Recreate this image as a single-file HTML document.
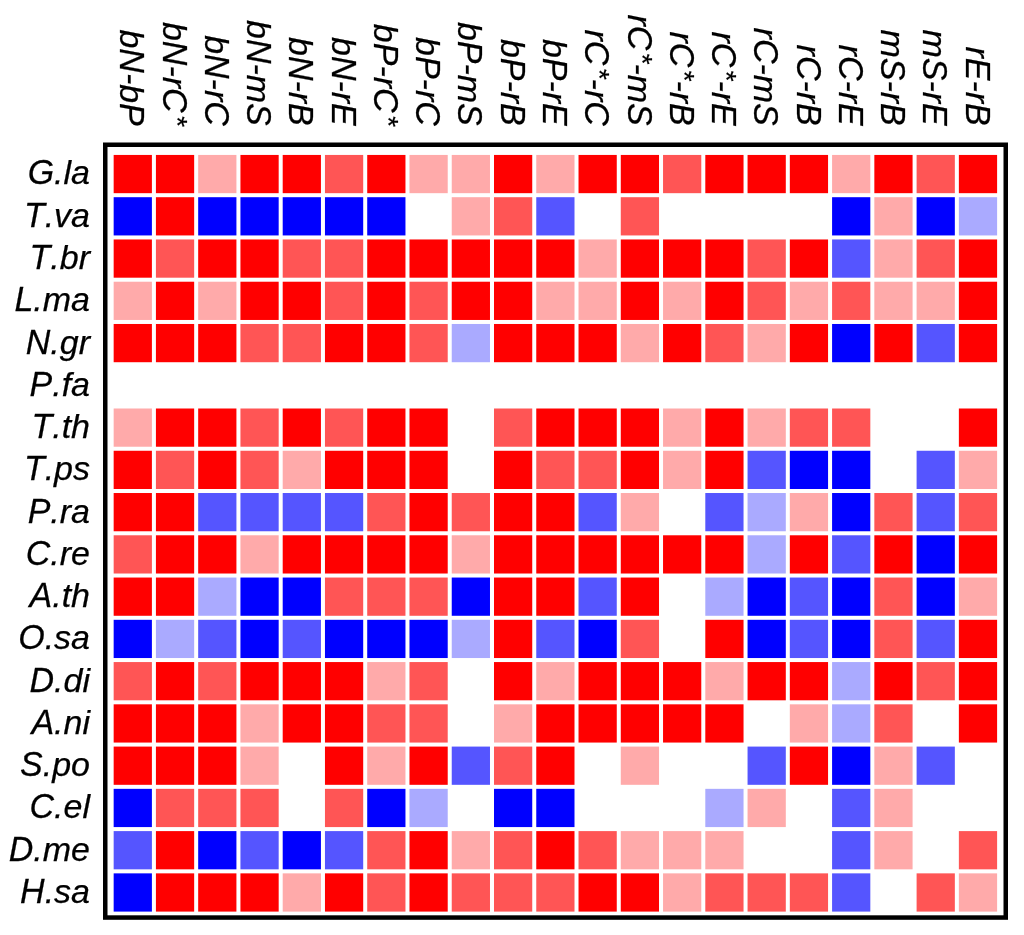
<!DOCTYPE html><html><head><meta charset="utf-8"><style>html,body{margin:0;padding:0;background:#fff;width:1024px;height:935px;overflow:hidden}svg{display:block;will-change:transform}text{font-family:"Liberation Sans",sans-serif;font-style:italic;font-kerning:none;fill:#000;font-size:34px;stroke:#000;stroke-width:0.25px}</style></head><body>
<svg width="1024" height="935" viewBox="0 0 1024 935">
<rect x="0" y="0" width="1024" height="935" fill="#fff"/>
<rect x="113.66" y="154.94" width="38.24" height="38.24" fill="#ff0000"/>
<rect x="155.92" y="154.94" width="38.24" height="38.24" fill="#ff0000"/>
<rect x="198.18" y="154.94" width="38.24" height="38.24" fill="#ffaaaa"/>
<rect x="240.44" y="154.94" width="38.24" height="38.24" fill="#ff0000"/>
<rect x="282.70" y="154.94" width="38.24" height="38.24" fill="#ff0000"/>
<rect x="324.96" y="154.94" width="38.24" height="38.24" fill="#ff5555"/>
<rect x="367.22" y="154.94" width="38.24" height="38.24" fill="#ff0000"/>
<rect x="409.48" y="154.94" width="38.24" height="38.24" fill="#ffaaaa"/>
<rect x="451.74" y="154.94" width="38.24" height="38.24" fill="#ffaaaa"/>
<rect x="494.00" y="154.94" width="38.24" height="38.24" fill="#ff0000"/>
<rect x="536.26" y="154.94" width="38.24" height="38.24" fill="#ffaaaa"/>
<rect x="578.52" y="154.94" width="38.24" height="38.24" fill="#ff0000"/>
<rect x="620.78" y="154.94" width="38.24" height="38.24" fill="#ff0000"/>
<rect x="663.04" y="154.94" width="38.24" height="38.24" fill="#ff5555"/>
<rect x="705.30" y="154.94" width="38.24" height="38.24" fill="#ff0000"/>
<rect x="747.56" y="154.94" width="38.24" height="38.24" fill="#ff0000"/>
<rect x="789.82" y="154.94" width="38.24" height="38.24" fill="#ff0000"/>
<rect x="832.08" y="154.94" width="38.24" height="38.24" fill="#ffaaaa"/>
<rect x="874.34" y="154.94" width="38.24" height="38.24" fill="#ff0000"/>
<rect x="916.60" y="154.94" width="38.24" height="38.24" fill="#ff5555"/>
<rect x="958.86" y="154.94" width="38.24" height="38.24" fill="#ff0000"/>
<rect x="113.66" y="197.20" width="38.24" height="38.24" fill="#0000ff"/>
<rect x="155.92" y="197.20" width="38.24" height="38.24" fill="#ff0000"/>
<rect x="198.18" y="197.20" width="38.24" height="38.24" fill="#0000ff"/>
<rect x="240.44" y="197.20" width="38.24" height="38.24" fill="#0000ff"/>
<rect x="282.70" y="197.20" width="38.24" height="38.24" fill="#0000ff"/>
<rect x="324.96" y="197.20" width="38.24" height="38.24" fill="#0000ff"/>
<rect x="367.22" y="197.20" width="38.24" height="38.24" fill="#0000ff"/>
<rect x="451.74" y="197.20" width="38.24" height="38.24" fill="#ffaaaa"/>
<rect x="494.00" y="197.20" width="38.24" height="38.24" fill="#ff5555"/>
<rect x="536.26" y="197.20" width="38.24" height="38.24" fill="#5555ff"/>
<rect x="620.78" y="197.20" width="38.24" height="38.24" fill="#ff5555"/>
<rect x="832.08" y="197.20" width="38.24" height="38.24" fill="#0000ff"/>
<rect x="874.34" y="197.20" width="38.24" height="38.24" fill="#ffaaaa"/>
<rect x="916.60" y="197.20" width="38.24" height="38.24" fill="#0000ff"/>
<rect x="958.86" y="197.20" width="38.24" height="38.24" fill="#aaaaff"/>
<rect x="113.66" y="239.46" width="38.24" height="38.24" fill="#ff0000"/>
<rect x="155.92" y="239.46" width="38.24" height="38.24" fill="#ff5555"/>
<rect x="198.18" y="239.46" width="38.24" height="38.24" fill="#ff0000"/>
<rect x="240.44" y="239.46" width="38.24" height="38.24" fill="#ff0000"/>
<rect x="282.70" y="239.46" width="38.24" height="38.24" fill="#ff5555"/>
<rect x="324.96" y="239.46" width="38.24" height="38.24" fill="#ff5555"/>
<rect x="367.22" y="239.46" width="38.24" height="38.24" fill="#ff0000"/>
<rect x="409.48" y="239.46" width="38.24" height="38.24" fill="#ff0000"/>
<rect x="451.74" y="239.46" width="38.24" height="38.24" fill="#ff0000"/>
<rect x="494.00" y="239.46" width="38.24" height="38.24" fill="#ff0000"/>
<rect x="536.26" y="239.46" width="38.24" height="38.24" fill="#ff0000"/>
<rect x="578.52" y="239.46" width="38.24" height="38.24" fill="#ffaaaa"/>
<rect x="620.78" y="239.46" width="38.24" height="38.24" fill="#ff0000"/>
<rect x="663.04" y="239.46" width="38.24" height="38.24" fill="#ff0000"/>
<rect x="705.30" y="239.46" width="38.24" height="38.24" fill="#ff0000"/>
<rect x="747.56" y="239.46" width="38.24" height="38.24" fill="#ff5555"/>
<rect x="789.82" y="239.46" width="38.24" height="38.24" fill="#ff0000"/>
<rect x="832.08" y="239.46" width="38.24" height="38.24" fill="#5555ff"/>
<rect x="874.34" y="239.46" width="38.24" height="38.24" fill="#ffaaaa"/>
<rect x="916.60" y="239.46" width="38.24" height="38.24" fill="#ff5555"/>
<rect x="958.86" y="239.46" width="38.24" height="38.24" fill="#ff0000"/>
<rect x="113.66" y="281.72" width="38.24" height="38.24" fill="#ffaaaa"/>
<rect x="155.92" y="281.72" width="38.24" height="38.24" fill="#ff0000"/>
<rect x="198.18" y="281.72" width="38.24" height="38.24" fill="#ffaaaa"/>
<rect x="240.44" y="281.72" width="38.24" height="38.24" fill="#ff0000"/>
<rect x="282.70" y="281.72" width="38.24" height="38.24" fill="#ff0000"/>
<rect x="324.96" y="281.72" width="38.24" height="38.24" fill="#ff5555"/>
<rect x="367.22" y="281.72" width="38.24" height="38.24" fill="#ff0000"/>
<rect x="409.48" y="281.72" width="38.24" height="38.24" fill="#ff5555"/>
<rect x="451.74" y="281.72" width="38.24" height="38.24" fill="#ff0000"/>
<rect x="494.00" y="281.72" width="38.24" height="38.24" fill="#ff0000"/>
<rect x="536.26" y="281.72" width="38.24" height="38.24" fill="#ffaaaa"/>
<rect x="578.52" y="281.72" width="38.24" height="38.24" fill="#ffaaaa"/>
<rect x="620.78" y="281.72" width="38.24" height="38.24" fill="#ff0000"/>
<rect x="663.04" y="281.72" width="38.24" height="38.24" fill="#ffaaaa"/>
<rect x="705.30" y="281.72" width="38.24" height="38.24" fill="#ff0000"/>
<rect x="747.56" y="281.72" width="38.24" height="38.24" fill="#ff5555"/>
<rect x="789.82" y="281.72" width="38.24" height="38.24" fill="#ffaaaa"/>
<rect x="832.08" y="281.72" width="38.24" height="38.24" fill="#ff5555"/>
<rect x="874.34" y="281.72" width="38.24" height="38.24" fill="#ffaaaa"/>
<rect x="916.60" y="281.72" width="38.24" height="38.24" fill="#ffaaaa"/>
<rect x="958.86" y="281.72" width="38.24" height="38.24" fill="#ff0000"/>
<rect x="113.66" y="323.98" width="38.24" height="38.24" fill="#ff0000"/>
<rect x="155.92" y="323.98" width="38.24" height="38.24" fill="#ff0000"/>
<rect x="198.18" y="323.98" width="38.24" height="38.24" fill="#ff0000"/>
<rect x="240.44" y="323.98" width="38.24" height="38.24" fill="#ff5555"/>
<rect x="282.70" y="323.98" width="38.24" height="38.24" fill="#ff5555"/>
<rect x="324.96" y="323.98" width="38.24" height="38.24" fill="#ff0000"/>
<rect x="367.22" y="323.98" width="38.24" height="38.24" fill="#ff0000"/>
<rect x="409.48" y="323.98" width="38.24" height="38.24" fill="#ff5555"/>
<rect x="451.74" y="323.98" width="38.24" height="38.24" fill="#aaaaff"/>
<rect x="494.00" y="323.98" width="38.24" height="38.24" fill="#ff0000"/>
<rect x="536.26" y="323.98" width="38.24" height="38.24" fill="#ff0000"/>
<rect x="578.52" y="323.98" width="38.24" height="38.24" fill="#ff0000"/>
<rect x="620.78" y="323.98" width="38.24" height="38.24" fill="#ffaaaa"/>
<rect x="663.04" y="323.98" width="38.24" height="38.24" fill="#ff0000"/>
<rect x="705.30" y="323.98" width="38.24" height="38.24" fill="#ff5555"/>
<rect x="747.56" y="323.98" width="38.24" height="38.24" fill="#ffaaaa"/>
<rect x="789.82" y="323.98" width="38.24" height="38.24" fill="#ff0000"/>
<rect x="832.08" y="323.98" width="38.24" height="38.24" fill="#0000ff"/>
<rect x="874.34" y="323.98" width="38.24" height="38.24" fill="#ff0000"/>
<rect x="916.60" y="323.98" width="38.24" height="38.24" fill="#5555ff"/>
<rect x="958.86" y="323.98" width="38.24" height="38.24" fill="#ff0000"/>
<rect x="113.66" y="408.50" width="38.24" height="38.24" fill="#ffaaaa"/>
<rect x="155.92" y="408.50" width="38.24" height="38.24" fill="#ff0000"/>
<rect x="198.18" y="408.50" width="38.24" height="38.24" fill="#ff0000"/>
<rect x="240.44" y="408.50" width="38.24" height="38.24" fill="#ff5555"/>
<rect x="282.70" y="408.50" width="38.24" height="38.24" fill="#ff0000"/>
<rect x="324.96" y="408.50" width="38.24" height="38.24" fill="#ff5555"/>
<rect x="367.22" y="408.50" width="38.24" height="38.24" fill="#ff0000"/>
<rect x="409.48" y="408.50" width="38.24" height="38.24" fill="#ff0000"/>
<rect x="494.00" y="408.50" width="38.24" height="38.24" fill="#ff5555"/>
<rect x="536.26" y="408.50" width="38.24" height="38.24" fill="#ff0000"/>
<rect x="578.52" y="408.50" width="38.24" height="38.24" fill="#ff0000"/>
<rect x="620.78" y="408.50" width="38.24" height="38.24" fill="#ff0000"/>
<rect x="663.04" y="408.50" width="38.24" height="38.24" fill="#ffaaaa"/>
<rect x="705.30" y="408.50" width="38.24" height="38.24" fill="#ff0000"/>
<rect x="747.56" y="408.50" width="38.24" height="38.24" fill="#ffaaaa"/>
<rect x="789.82" y="408.50" width="38.24" height="38.24" fill="#ff5555"/>
<rect x="832.08" y="408.50" width="38.24" height="38.24" fill="#ff5555"/>
<rect x="958.86" y="408.50" width="38.24" height="38.24" fill="#ff0000"/>
<rect x="113.66" y="450.76" width="38.24" height="38.24" fill="#ff0000"/>
<rect x="155.92" y="450.76" width="38.24" height="38.24" fill="#ff5555"/>
<rect x="198.18" y="450.76" width="38.24" height="38.24" fill="#ff0000"/>
<rect x="240.44" y="450.76" width="38.24" height="38.24" fill="#ff5555"/>
<rect x="282.70" y="450.76" width="38.24" height="38.24" fill="#ffaaaa"/>
<rect x="324.96" y="450.76" width="38.24" height="38.24" fill="#ff0000"/>
<rect x="367.22" y="450.76" width="38.24" height="38.24" fill="#ff0000"/>
<rect x="409.48" y="450.76" width="38.24" height="38.24" fill="#ff0000"/>
<rect x="494.00" y="450.76" width="38.24" height="38.24" fill="#ff0000"/>
<rect x="536.26" y="450.76" width="38.24" height="38.24" fill="#ff5555"/>
<rect x="578.52" y="450.76" width="38.24" height="38.24" fill="#ff5555"/>
<rect x="620.78" y="450.76" width="38.24" height="38.24" fill="#ff0000"/>
<rect x="663.04" y="450.76" width="38.24" height="38.24" fill="#ffaaaa"/>
<rect x="705.30" y="450.76" width="38.24" height="38.24" fill="#ff0000"/>
<rect x="747.56" y="450.76" width="38.24" height="38.24" fill="#5555ff"/>
<rect x="789.82" y="450.76" width="38.24" height="38.24" fill="#0000ff"/>
<rect x="832.08" y="450.76" width="38.24" height="38.24" fill="#0000ff"/>
<rect x="916.60" y="450.76" width="38.24" height="38.24" fill="#5555ff"/>
<rect x="958.86" y="450.76" width="38.24" height="38.24" fill="#ffaaaa"/>
<rect x="113.66" y="493.02" width="38.24" height="38.24" fill="#ff0000"/>
<rect x="155.92" y="493.02" width="38.24" height="38.24" fill="#ff0000"/>
<rect x="198.18" y="493.02" width="38.24" height="38.24" fill="#5555ff"/>
<rect x="240.44" y="493.02" width="38.24" height="38.24" fill="#5555ff"/>
<rect x="282.70" y="493.02" width="38.24" height="38.24" fill="#5555ff"/>
<rect x="324.96" y="493.02" width="38.24" height="38.24" fill="#5555ff"/>
<rect x="367.22" y="493.02" width="38.24" height="38.24" fill="#ff5555"/>
<rect x="409.48" y="493.02" width="38.24" height="38.24" fill="#ff0000"/>
<rect x="451.74" y="493.02" width="38.24" height="38.24" fill="#ff5555"/>
<rect x="494.00" y="493.02" width="38.24" height="38.24" fill="#ff0000"/>
<rect x="536.26" y="493.02" width="38.24" height="38.24" fill="#ff0000"/>
<rect x="578.52" y="493.02" width="38.24" height="38.24" fill="#5555ff"/>
<rect x="620.78" y="493.02" width="38.24" height="38.24" fill="#ffaaaa"/>
<rect x="705.30" y="493.02" width="38.24" height="38.24" fill="#5555ff"/>
<rect x="747.56" y="493.02" width="38.24" height="38.24" fill="#aaaaff"/>
<rect x="789.82" y="493.02" width="38.24" height="38.24" fill="#ffaaaa"/>
<rect x="832.08" y="493.02" width="38.24" height="38.24" fill="#0000ff"/>
<rect x="874.34" y="493.02" width="38.24" height="38.24" fill="#ff5555"/>
<rect x="916.60" y="493.02" width="38.24" height="38.24" fill="#5555ff"/>
<rect x="958.86" y="493.02" width="38.24" height="38.24" fill="#ff5555"/>
<rect x="113.66" y="535.28" width="38.24" height="38.24" fill="#ff5555"/>
<rect x="155.92" y="535.28" width="38.24" height="38.24" fill="#ff0000"/>
<rect x="198.18" y="535.28" width="38.24" height="38.24" fill="#ff0000"/>
<rect x="240.44" y="535.28" width="38.24" height="38.24" fill="#ffaaaa"/>
<rect x="282.70" y="535.28" width="38.24" height="38.24" fill="#ff0000"/>
<rect x="324.96" y="535.28" width="38.24" height="38.24" fill="#ff0000"/>
<rect x="367.22" y="535.28" width="38.24" height="38.24" fill="#ff0000"/>
<rect x="409.48" y="535.28" width="38.24" height="38.24" fill="#ff0000"/>
<rect x="451.74" y="535.28" width="38.24" height="38.24" fill="#ffaaaa"/>
<rect x="494.00" y="535.28" width="38.24" height="38.24" fill="#ff0000"/>
<rect x="536.26" y="535.28" width="38.24" height="38.24" fill="#ff0000"/>
<rect x="578.52" y="535.28" width="38.24" height="38.24" fill="#ff0000"/>
<rect x="620.78" y="535.28" width="38.24" height="38.24" fill="#ff0000"/>
<rect x="663.04" y="535.28" width="38.24" height="38.24" fill="#ff0000"/>
<rect x="705.30" y="535.28" width="38.24" height="38.24" fill="#ff0000"/>
<rect x="747.56" y="535.28" width="38.24" height="38.24" fill="#aaaaff"/>
<rect x="789.82" y="535.28" width="38.24" height="38.24" fill="#ff0000"/>
<rect x="832.08" y="535.28" width="38.24" height="38.24" fill="#5555ff"/>
<rect x="874.34" y="535.28" width="38.24" height="38.24" fill="#ff0000"/>
<rect x="916.60" y="535.28" width="38.24" height="38.24" fill="#0000ff"/>
<rect x="958.86" y="535.28" width="38.24" height="38.24" fill="#ff0000"/>
<rect x="113.66" y="577.54" width="38.24" height="38.24" fill="#ff0000"/>
<rect x="155.92" y="577.54" width="38.24" height="38.24" fill="#ff0000"/>
<rect x="198.18" y="577.54" width="38.24" height="38.24" fill="#aaaaff"/>
<rect x="240.44" y="577.54" width="38.24" height="38.24" fill="#0000ff"/>
<rect x="282.70" y="577.54" width="38.24" height="38.24" fill="#0000ff"/>
<rect x="324.96" y="577.54" width="38.24" height="38.24" fill="#ff5555"/>
<rect x="367.22" y="577.54" width="38.24" height="38.24" fill="#ff5555"/>
<rect x="409.48" y="577.54" width="38.24" height="38.24" fill="#ff5555"/>
<rect x="451.74" y="577.54" width="38.24" height="38.24" fill="#0000ff"/>
<rect x="494.00" y="577.54" width="38.24" height="38.24" fill="#ff0000"/>
<rect x="536.26" y="577.54" width="38.24" height="38.24" fill="#ff0000"/>
<rect x="578.52" y="577.54" width="38.24" height="38.24" fill="#5555ff"/>
<rect x="620.78" y="577.54" width="38.24" height="38.24" fill="#ff0000"/>
<rect x="705.30" y="577.54" width="38.24" height="38.24" fill="#aaaaff"/>
<rect x="747.56" y="577.54" width="38.24" height="38.24" fill="#0000ff"/>
<rect x="789.82" y="577.54" width="38.24" height="38.24" fill="#5555ff"/>
<rect x="832.08" y="577.54" width="38.24" height="38.24" fill="#0000ff"/>
<rect x="874.34" y="577.54" width="38.24" height="38.24" fill="#ff5555"/>
<rect x="916.60" y="577.54" width="38.24" height="38.24" fill="#0000ff"/>
<rect x="958.86" y="577.54" width="38.24" height="38.24" fill="#ffaaaa"/>
<rect x="113.66" y="619.80" width="38.24" height="38.24" fill="#0000ff"/>
<rect x="155.92" y="619.80" width="38.24" height="38.24" fill="#aaaaff"/>
<rect x="198.18" y="619.80" width="38.24" height="38.24" fill="#5555ff"/>
<rect x="240.44" y="619.80" width="38.24" height="38.24" fill="#0000ff"/>
<rect x="282.70" y="619.80" width="38.24" height="38.24" fill="#5555ff"/>
<rect x="324.96" y="619.80" width="38.24" height="38.24" fill="#0000ff"/>
<rect x="367.22" y="619.80" width="38.24" height="38.24" fill="#0000ff"/>
<rect x="409.48" y="619.80" width="38.24" height="38.24" fill="#0000ff"/>
<rect x="451.74" y="619.80" width="38.24" height="38.24" fill="#aaaaff"/>
<rect x="494.00" y="619.80" width="38.24" height="38.24" fill="#ff0000"/>
<rect x="536.26" y="619.80" width="38.24" height="38.24" fill="#5555ff"/>
<rect x="578.52" y="619.80" width="38.24" height="38.24" fill="#0000ff"/>
<rect x="620.78" y="619.80" width="38.24" height="38.24" fill="#ff5555"/>
<rect x="705.30" y="619.80" width="38.24" height="38.24" fill="#ff0000"/>
<rect x="747.56" y="619.80" width="38.24" height="38.24" fill="#0000ff"/>
<rect x="789.82" y="619.80" width="38.24" height="38.24" fill="#5555ff"/>
<rect x="832.08" y="619.80" width="38.24" height="38.24" fill="#0000ff"/>
<rect x="874.34" y="619.80" width="38.24" height="38.24" fill="#ff5555"/>
<rect x="916.60" y="619.80" width="38.24" height="38.24" fill="#5555ff"/>
<rect x="958.86" y="619.80" width="38.24" height="38.24" fill="#ff0000"/>
<rect x="113.66" y="662.06" width="38.24" height="38.24" fill="#ff5555"/>
<rect x="155.92" y="662.06" width="38.24" height="38.24" fill="#ff0000"/>
<rect x="198.18" y="662.06" width="38.24" height="38.24" fill="#ff5555"/>
<rect x="240.44" y="662.06" width="38.24" height="38.24" fill="#ff0000"/>
<rect x="282.70" y="662.06" width="38.24" height="38.24" fill="#ff0000"/>
<rect x="324.96" y="662.06" width="38.24" height="38.24" fill="#ff0000"/>
<rect x="367.22" y="662.06" width="38.24" height="38.24" fill="#ffaaaa"/>
<rect x="409.48" y="662.06" width="38.24" height="38.24" fill="#ff5555"/>
<rect x="494.00" y="662.06" width="38.24" height="38.24" fill="#ff0000"/>
<rect x="536.26" y="662.06" width="38.24" height="38.24" fill="#ffaaaa"/>
<rect x="578.52" y="662.06" width="38.24" height="38.24" fill="#ff0000"/>
<rect x="620.78" y="662.06" width="38.24" height="38.24" fill="#ff0000"/>
<rect x="663.04" y="662.06" width="38.24" height="38.24" fill="#ff0000"/>
<rect x="705.30" y="662.06" width="38.24" height="38.24" fill="#ffaaaa"/>
<rect x="747.56" y="662.06" width="38.24" height="38.24" fill="#ff0000"/>
<rect x="789.82" y="662.06" width="38.24" height="38.24" fill="#ff0000"/>
<rect x="832.08" y="662.06" width="38.24" height="38.24" fill="#aaaaff"/>
<rect x="874.34" y="662.06" width="38.24" height="38.24" fill="#ff0000"/>
<rect x="916.60" y="662.06" width="38.24" height="38.24" fill="#ff5555"/>
<rect x="958.86" y="662.06" width="38.24" height="38.24" fill="#ff0000"/>
<rect x="113.66" y="704.32" width="38.24" height="38.24" fill="#ff0000"/>
<rect x="155.92" y="704.32" width="38.24" height="38.24" fill="#ff0000"/>
<rect x="198.18" y="704.32" width="38.24" height="38.24" fill="#ff0000"/>
<rect x="240.44" y="704.32" width="38.24" height="38.24" fill="#ffaaaa"/>
<rect x="282.70" y="704.32" width="38.24" height="38.24" fill="#ff0000"/>
<rect x="324.96" y="704.32" width="38.24" height="38.24" fill="#ff0000"/>
<rect x="367.22" y="704.32" width="38.24" height="38.24" fill="#ff5555"/>
<rect x="409.48" y="704.32" width="38.24" height="38.24" fill="#ff5555"/>
<rect x="494.00" y="704.32" width="38.24" height="38.24" fill="#ffaaaa"/>
<rect x="536.26" y="704.32" width="38.24" height="38.24" fill="#ff0000"/>
<rect x="578.52" y="704.32" width="38.24" height="38.24" fill="#ff0000"/>
<rect x="620.78" y="704.32" width="38.24" height="38.24" fill="#ff0000"/>
<rect x="663.04" y="704.32" width="38.24" height="38.24" fill="#ff0000"/>
<rect x="705.30" y="704.32" width="38.24" height="38.24" fill="#ff0000"/>
<rect x="789.82" y="704.32" width="38.24" height="38.24" fill="#ffaaaa"/>
<rect x="832.08" y="704.32" width="38.24" height="38.24" fill="#aaaaff"/>
<rect x="874.34" y="704.32" width="38.24" height="38.24" fill="#ff5555"/>
<rect x="958.86" y="704.32" width="38.24" height="38.24" fill="#ff0000"/>
<rect x="113.66" y="746.58" width="38.24" height="38.24" fill="#ff0000"/>
<rect x="155.92" y="746.58" width="38.24" height="38.24" fill="#ff0000"/>
<rect x="198.18" y="746.58" width="38.24" height="38.24" fill="#ff0000"/>
<rect x="240.44" y="746.58" width="38.24" height="38.24" fill="#ffaaaa"/>
<rect x="324.96" y="746.58" width="38.24" height="38.24" fill="#ff0000"/>
<rect x="367.22" y="746.58" width="38.24" height="38.24" fill="#ffaaaa"/>
<rect x="409.48" y="746.58" width="38.24" height="38.24" fill="#ff0000"/>
<rect x="451.74" y="746.58" width="38.24" height="38.24" fill="#5555ff"/>
<rect x="494.00" y="746.58" width="38.24" height="38.24" fill="#ff5555"/>
<rect x="536.26" y="746.58" width="38.24" height="38.24" fill="#ff0000"/>
<rect x="620.78" y="746.58" width="38.24" height="38.24" fill="#ffaaaa"/>
<rect x="747.56" y="746.58" width="38.24" height="38.24" fill="#5555ff"/>
<rect x="789.82" y="746.58" width="38.24" height="38.24" fill="#ff0000"/>
<rect x="832.08" y="746.58" width="38.24" height="38.24" fill="#0000ff"/>
<rect x="874.34" y="746.58" width="38.24" height="38.24" fill="#ffaaaa"/>
<rect x="916.60" y="746.58" width="38.24" height="38.24" fill="#5555ff"/>
<rect x="113.66" y="788.84" width="38.24" height="38.24" fill="#0000ff"/>
<rect x="155.92" y="788.84" width="38.24" height="38.24" fill="#ff5555"/>
<rect x="198.18" y="788.84" width="38.24" height="38.24" fill="#ff5555"/>
<rect x="240.44" y="788.84" width="38.24" height="38.24" fill="#ff5555"/>
<rect x="324.96" y="788.84" width="38.24" height="38.24" fill="#ff5555"/>
<rect x="367.22" y="788.84" width="38.24" height="38.24" fill="#0000ff"/>
<rect x="409.48" y="788.84" width="38.24" height="38.24" fill="#aaaaff"/>
<rect x="494.00" y="788.84" width="38.24" height="38.24" fill="#0000ff"/>
<rect x="536.26" y="788.84" width="38.24" height="38.24" fill="#0000ff"/>
<rect x="705.30" y="788.84" width="38.24" height="38.24" fill="#aaaaff"/>
<rect x="747.56" y="788.84" width="38.24" height="38.24" fill="#ffaaaa"/>
<rect x="832.08" y="788.84" width="38.24" height="38.24" fill="#5555ff"/>
<rect x="874.34" y="788.84" width="38.24" height="38.24" fill="#ffaaaa"/>
<rect x="113.66" y="831.10" width="38.24" height="38.24" fill="#5555ff"/>
<rect x="155.92" y="831.10" width="38.24" height="38.24" fill="#ff0000"/>
<rect x="198.18" y="831.10" width="38.24" height="38.24" fill="#0000ff"/>
<rect x="240.44" y="831.10" width="38.24" height="38.24" fill="#5555ff"/>
<rect x="282.70" y="831.10" width="38.24" height="38.24" fill="#0000ff"/>
<rect x="324.96" y="831.10" width="38.24" height="38.24" fill="#5555ff"/>
<rect x="367.22" y="831.10" width="38.24" height="38.24" fill="#ff5555"/>
<rect x="409.48" y="831.10" width="38.24" height="38.24" fill="#ff0000"/>
<rect x="451.74" y="831.10" width="38.24" height="38.24" fill="#ffaaaa"/>
<rect x="494.00" y="831.10" width="38.24" height="38.24" fill="#ff5555"/>
<rect x="536.26" y="831.10" width="38.24" height="38.24" fill="#ff0000"/>
<rect x="578.52" y="831.10" width="38.24" height="38.24" fill="#ff5555"/>
<rect x="620.78" y="831.10" width="38.24" height="38.24" fill="#ffaaaa"/>
<rect x="663.04" y="831.10" width="38.24" height="38.24" fill="#ffaaaa"/>
<rect x="705.30" y="831.10" width="38.24" height="38.24" fill="#ffaaaa"/>
<rect x="832.08" y="831.10" width="38.24" height="38.24" fill="#5555ff"/>
<rect x="874.34" y="831.10" width="38.24" height="38.24" fill="#ffaaaa"/>
<rect x="958.86" y="831.10" width="38.24" height="38.24" fill="#ff5555"/>
<rect x="113.66" y="873.36" width="38.24" height="38.24" fill="#0000ff"/>
<rect x="155.92" y="873.36" width="38.24" height="38.24" fill="#ff0000"/>
<rect x="198.18" y="873.36" width="38.24" height="38.24" fill="#ff0000"/>
<rect x="240.44" y="873.36" width="38.24" height="38.24" fill="#ff0000"/>
<rect x="282.70" y="873.36" width="38.24" height="38.24" fill="#ffaaaa"/>
<rect x="324.96" y="873.36" width="38.24" height="38.24" fill="#ff0000"/>
<rect x="367.22" y="873.36" width="38.24" height="38.24" fill="#ff5555"/>
<rect x="409.48" y="873.36" width="38.24" height="38.24" fill="#ff0000"/>
<rect x="451.74" y="873.36" width="38.24" height="38.24" fill="#ff5555"/>
<rect x="494.00" y="873.36" width="38.24" height="38.24" fill="#ff5555"/>
<rect x="536.26" y="873.36" width="38.24" height="38.24" fill="#ff5555"/>
<rect x="578.52" y="873.36" width="38.24" height="38.24" fill="#ff0000"/>
<rect x="620.78" y="873.36" width="38.24" height="38.24" fill="#ff0000"/>
<rect x="663.04" y="873.36" width="38.24" height="38.24" fill="#ffaaaa"/>
<rect x="705.30" y="873.36" width="38.24" height="38.24" fill="#ff5555"/>
<rect x="747.56" y="873.36" width="38.24" height="38.24" fill="#ff5555"/>
<rect x="789.82" y="873.36" width="38.24" height="38.24" fill="#ff5555"/>
<rect x="832.08" y="873.36" width="38.24" height="38.24" fill="#5555ff"/>
<rect x="916.60" y="873.36" width="38.24" height="38.24" fill="#ff5555"/>
<rect x="958.86" y="873.36" width="38.24" height="38.24" fill="#ffaaaa"/>
<rect x="105.25" y="144.75" width="900.50" height="772.80" fill="none" stroke="#000" stroke-width="4.5"/>
<g transform="translate(90.00,184.46)"><text transform="translate(-62.355,0) scale(1,1.05)">G</text><text x="-35.909" y="0">.la</text></g>
<g transform="translate(90.00,226.72)"><text transform="translate(-66.124,0) scale(1,1.05)">T</text><text x="-45.355" y="0">.va</text></g>
<g transform="translate(90.00,268.98)"><text transform="translate(-60.446,0) scale(1,1.05)">T</text><text x="-39.678" y="0">.br</text></g>
<g transform="translate(90.00,311.24)"><text transform="translate(-75.587,0) scale(1,1.05)">L</text><text x="-56.678" y="0">.ma</text></g>
<g transform="translate(90.00,353.50)"><text transform="translate(-64.231,0) scale(1,1.05)">N</text><text x="-39.678" y="0">.gr</text></g>
<g transform="translate(90.00,395.76)"><text transform="translate(-60.479,0) scale(1,1.05)">P</text><text x="-37.802" y="0">.fa</text></g>
<g transform="translate(90.00,438.02)"><text transform="translate(-58.570,0) scale(1,1.05)">T</text><text x="-37.802" y="0">.th</text></g>
<g transform="translate(90.00,480.28)"><text transform="translate(-66.124,0) scale(1,1.05)">T</text><text x="-45.355" y="0">.ps</text></g>
<g transform="translate(90.00,522.54)"><text transform="translate(-62.355,0) scale(1,1.05)">P</text><text x="-39.678" y="0">.ra</text></g>
<g transform="translate(90.00,564.80)"><text transform="translate(-64.231,0) scale(1,1.05)">C</text><text x="-39.678" y="0">.re</text></g>
<g transform="translate(90.00,607.06)"><text transform="translate(-60.479,0) scale(1,1.05)">A</text><text x="-37.802" y="0">.th</text></g>
<g transform="translate(90.00,649.32)"><text transform="translate(-71.802,0) scale(1,1.05)">O</text><text x="-45.355" y="0">.sa</text></g>
<g transform="translate(90.00,691.58)"><text transform="translate(-60.463,0) scale(1,1.05)">D</text><text x="-35.909" y="0">.di</text></g>
<g transform="translate(90.00,733.84)"><text transform="translate(-58.587,0) scale(1,1.05)">A</text><text x="-35.909" y="0">.ni</text></g>
<g transform="translate(90.00,776.10)"><text transform="translate(-69.942,0) scale(1,1.05)">S</text><text x="-47.265" y="0">.po</text></g>
<g transform="translate(90.00,818.36)"><text transform="translate(-60.463,0) scale(1,1.05)">C</text><text x="-35.909" y="0">.el</text></g>
<g transform="translate(90.00,860.62)"><text transform="translate(-81.231,0) scale(1,1.05)">D</text><text x="-56.678" y="0">.me</text></g>
<g transform="translate(90.00,902.88)"><text transform="translate(-69.909,0) scale(1,1.05)">H</text><text x="-45.355" y="0">.sa</text></g>
<g transform="translate(120.38,125.80) rotate(90)"><text x="-96.372" y="0">b</text><text transform="translate(-77.463,0) scale(1,1.05)">N</text><text x="-52.909" y="0">-b</text><text transform="translate(-22.678,0) scale(1,1.05)">P</text></g>
<g transform="translate(162.64,125.80) rotate(90)"><text x="-103.893" y="0">b</text><text transform="translate(-84.983,0) scale(1,1.05)">N</text><text x="-60.430" y="0">-r</text><text transform="translate(-37.785,0) scale(1,1.05)">C</text><text transform="translate(-4.161,-19.600) scale(0.83) translate(-8.070,17.400)">*</text></g>
<g transform="translate(204.90,125.80) rotate(90)"><text x="-90.661" y="0">b</text><text transform="translate(-71.752,0) scale(1,1.05)">N</text><text x="-47.198" y="0">-r</text><text transform="translate(-24.554,0) scale(1,1.05)">C</text></g>
<g transform="translate(247.16,125.80) rotate(90)"><text x="-105.785" y="0">b</text><text transform="translate(-86.876,0) scale(1,1.05)">N</text><text x="-62.322" y="0">-m</text><text transform="translate(-22.678,0) scale(1,1.05)">S</text></g>
<g transform="translate(289.42,125.80) rotate(90)"><text x="-88.785" y="0">b</text><text transform="translate(-69.876,0) scale(1,1.05)">N</text><text x="-45.322" y="0">-r</text><text transform="translate(-22.678,0) scale(1,1.05)">B</text></g>
<g transform="translate(331.68,125.80) rotate(90)"><text x="-88.785" y="0">b</text><text transform="translate(-69.876,0) scale(1,1.05)">N</text><text x="-45.322" y="0">-r</text><text transform="translate(-22.678,0) scale(1,1.05)">E</text></g>
<g transform="translate(373.94,125.80) rotate(90)"><text x="-102.017" y="0">b</text><text transform="translate(-83.107,0) scale(1,1.05)">P</text><text x="-60.430" y="0">-r</text><text transform="translate(-37.785,0) scale(1,1.05)">C</text><text transform="translate(-4.161,-19.600) scale(0.83) translate(-8.070,17.400)">*</text></g>
<g transform="translate(416.20,125.80) rotate(90)"><text x="-88.785" y="0">b</text><text transform="translate(-69.876,0) scale(1,1.05)">P</text><text x="-47.198" y="0">-r</text><text transform="translate(-24.554,0) scale(1,1.05)">C</text></g>
<g transform="translate(458.46,125.80) rotate(90)"><text x="-103.909" y="0">b</text><text transform="translate(-85.000,0) scale(1,1.05)">P</text><text x="-62.322" y="0">-m</text><text transform="translate(-22.678,0) scale(1,1.05)">S</text></g>
<g transform="translate(500.72,125.80) rotate(90)"><text x="-86.909" y="0">b</text><text transform="translate(-68.000,0) scale(1,1.05)">P</text><text x="-45.322" y="0">-r</text><text transform="translate(-22.678,0) scale(1,1.05)">B</text></g>
<g transform="translate(542.98,125.80) rotate(90)"><text x="-86.909" y="0">b</text><text transform="translate(-68.000,0) scale(1,1.05)">P</text><text x="-45.322" y="0">-r</text><text transform="translate(-22.678,0) scale(1,1.05)">E</text></g>
<g transform="translate(585.24,125.80) rotate(90)"><text x="-96.306" y="0">r</text><text transform="translate(-84.983,0) scale(1,1.05)">C</text><text transform="translate(-51.360,-19.600) scale(0.83) translate(-8.070,17.400)">*</text><text x="-47.198" y="0">-r</text><text transform="translate(-24.554,0) scale(1,1.05)">C</text></g>
<g transform="translate(627.50,125.80) rotate(90)"><text x="-111.430" y="0">r</text><text transform="translate(-100.107,0) scale(1,1.05)">C</text><text transform="translate(-66.484,-19.600) scale(0.83) translate(-8.070,17.400)">*</text><text x="-62.322" y="0">-m</text><text transform="translate(-22.678,0) scale(1,1.05)">S</text></g>
<g transform="translate(669.76,125.80) rotate(90)"><text x="-94.430" y="0">r</text><text transform="translate(-83.107,0) scale(1,1.05)">C</text><text transform="translate(-49.484,-19.600) scale(0.83) translate(-8.070,17.400)">*</text><text x="-45.322" y="0">-r</text><text transform="translate(-22.678,0) scale(1,1.05)">B</text></g>
<g transform="translate(712.02,125.80) rotate(90)"><text x="-94.430" y="0">r</text><text transform="translate(-83.107,0) scale(1,1.05)">C</text><text transform="translate(-49.484,-19.600) scale(0.83) translate(-8.070,17.400)">*</text><text x="-45.322" y="0">-r</text><text transform="translate(-22.678,0) scale(1,1.05)">E</text></g>
<g transform="translate(754.28,125.80) rotate(90)"><text x="-98.198" y="0">r</text><text transform="translate(-86.876,0) scale(1,1.05)">C</text><text x="-62.322" y="0">-m</text><text transform="translate(-22.678,0) scale(1,1.05)">S</text></g>
<g transform="translate(796.54,125.80) rotate(90)"><text x="-81.198" y="0">r</text><text transform="translate(-69.876,0) scale(1,1.05)">C</text><text x="-45.322" y="0">-r</text><text transform="translate(-22.678,0) scale(1,1.05)">B</text></g>
<g transform="translate(838.80,125.80) rotate(90)"><text x="-81.198" y="0">r</text><text transform="translate(-69.876,0) scale(1,1.05)">C</text><text x="-45.322" y="0">-r</text><text transform="translate(-22.678,0) scale(1,1.05)">E</text></g>
<g transform="translate(881.06,125.80) rotate(90)"><text x="-96.322" y="0">m</text><text transform="translate(-68.000,0) scale(1,1.05)">S</text><text x="-45.322" y="0">-r</text><text transform="translate(-22.678,0) scale(1,1.05)">B</text></g>
<g transform="translate(923.32,125.80) rotate(90)"><text x="-96.322" y="0">m</text><text transform="translate(-68.000,0) scale(1,1.05)">S</text><text x="-45.322" y="0">-r</text><text transform="translate(-22.678,0) scale(1,1.05)">E</text></g>
<g transform="translate(965.58,125.80) rotate(90)"><text x="-79.322" y="0">r</text><text transform="translate(-68.000,0) scale(1,1.05)">E</text><text x="-45.322" y="0">-r</text><text transform="translate(-22.678,0) scale(1,1.05)">B</text></g>
</svg></body></html>
